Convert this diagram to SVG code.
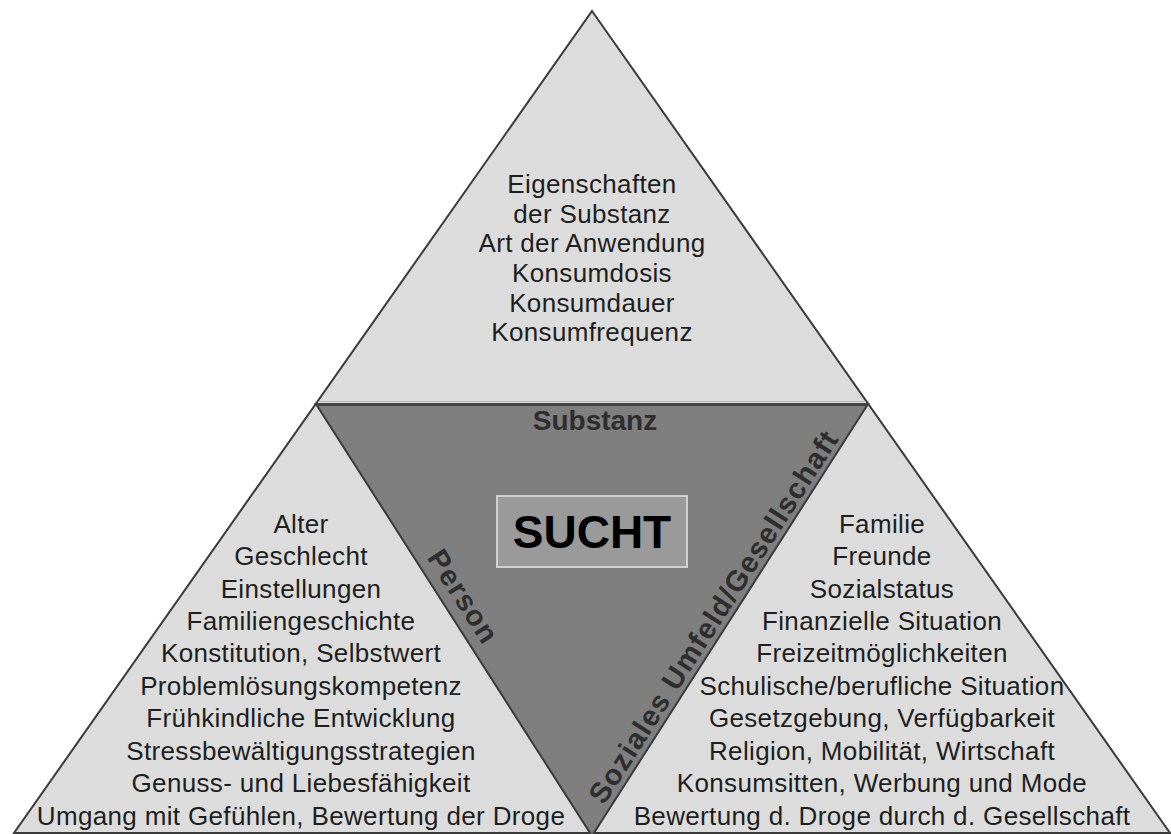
<svg xmlns="http://www.w3.org/2000/svg" width="1171" height="834" viewBox="0 0 1171 834">
<style>
.t{font-family:"Liberation Sans",Arial,sans-serif;font-size:26px;letter-spacing:0.35px;fill:#1e1e1e;text-anchor:middle}
.lbl{font-family:"Liberation Sans",Arial,sans-serif;font-weight:bold;fill:#2e2e2e;text-anchor:middle}
.light{fill:#dcdcdc;stroke:#3a3a3a;stroke-width:2;stroke-linejoin:miter}
</style>
<rect width="1171" height="834" fill="#fff"/>
<g id="outer">
<polygon class="light" points="592,11 1170,833 14,833"/>
</g>
<g id="substanz">
<text class="t" x="592" y="193">Eigenschaften</text>
<text class="t" x="592" y="223">der Substanz</text>
<text class="t" x="592" y="252">Art der Anwendung</text>
<text class="t" x="592" y="282">Konsumdosis</text>
<text class="t" x="592" y="312">Konsumdauer</text>
<text class="t" x="592" y="341">Konsumfrequenz</text>
</g>
<g id="center">
<polygon points="316,404 868,404 592,836" fill="#7f7f7f" stroke="#3a3a3a" stroke-width="2"/>
<line x1="316" y1="404.5" x2="868" y2="404.5" stroke="#444" stroke-width="3"/>
<line x1="318" y1="401.5" x2="866" y2="401.5" stroke="#b8b8b8" stroke-width="1"/>
<text class="lbl" x="595" y="430" font-size="28">Substanz</text>
<rect x="497" y="496" width="190" height="71" fill="#9a9a9a" stroke="#d0d0d0" stroke-width="2"/>
<text x="592" y="548" font-family="Liberation Sans,Arial,sans-serif" font-weight="bold" font-size="46" text-anchor="middle" fill="#000">SUCHT</text>
<text class="lbl" font-size="29" letter-spacing="1.2" transform="translate(455,602) rotate(57.3)">Person</text>
<text class="lbl" font-size="29" letter-spacing="1.2" transform="translate(722,622) rotate(-57.3)">Soziales Umfeld/Gesellschaft</text>
</g>
<g id="person">
<text class="t" x="301" y="533">Alter</text>
<text class="t" x="301" y="565">Geschlecht</text>
<text class="t" x="301" y="598">Einstellungen</text>
<text class="t" x="301" y="630">Familiengeschichte</text>
<text class="t" x="301" y="662">Konstitution, Selbstwert</text>
<text class="t" x="301" y="695">Problemlösungskompetenz</text>
<text class="t" x="301" y="727">Frühkindliche Entwicklung</text>
<text class="t" x="301" y="760">Stressbewältigungsstrategien</text>
<text class="t" x="301" y="792">Genuss- und Liebesfähigkeit</text>
<text class="t" x="301" y="825">Umgang mit Gefühlen, Bewertung der Droge</text>
</g>
<g id="umfeld">
<text class="t" x="882" y="533">Familie</text>
<text class="t" x="882" y="565">Freunde</text>
<text class="t" x="882" y="598">Sozialstatus</text>
<text class="t" x="882" y="630">Finanzielle Situation</text>
<text class="t" x="882" y="662">Freizeitmöglichkeiten</text>
<text class="t" x="882" y="695">Schulische/berufliche Situation</text>
<text class="t" x="882" y="727">Gesetzgebung, Verfügbarkeit</text>
<text class="t" x="882" y="760">Religion, Mobilität, Wirtschaft</text>
<text class="t" x="882" y="792">Konsumsitten, Werbung und Mode</text>
<text class="t" x="882" y="825">Bewertung d. Droge durch d. Gesellschaft</text>
</g>
</svg>
